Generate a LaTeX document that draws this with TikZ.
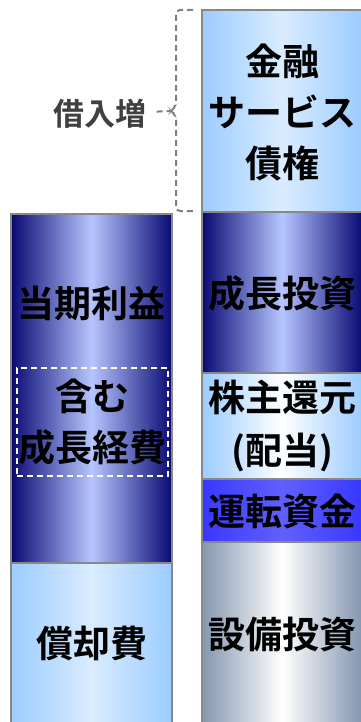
\documentclass[tikz,border=0pt]{standalone}
\usepackage{fontspec}
\newfontfamily\jp{Noto Sans CJK JP}[BoldFont={Noto Sans CJK JP Bold}]
\usepackage{tikz}
\usetikzlibrary{calc,positioning}
\usepackage{xcolor}
\definecolor{dk}{RGB}{10,10,115}
\definecolor{dklt}{RGB}{182,198,255}
\definecolor{sk}{RGB}{156,204,255}
\definecolor{sklt}{RGB}{218,236,255}
\definecolor{vv}{RGB}{56,56,255}
\definecolor{vvlt}{RGB}{96,96,255}
\definecolor{st}{RGB}{132,150,176}
\definecolor{frame}{RGB}{136,136,136}

\begin{document}
\begin{tikzpicture}[x=1pt, y=-1pt,
 seg/.style={draw=frame, line width=1.5pt},
 navy/.style={seg, left color=dk, right color=dk, middle color=dklt},
 sky/.style={seg, left color=sk, right color=sk, middle color=sklt},
 pale/.style={seg, left color=sk, right color=sk, middle color=white},
 vivid/.style={seg, left color=vv, right color=vv, middle color=vvlt},
 steel/.style={seg, left color=st, right color=st, middle color=white},
 txt/.style={font=\jp\bfseries\fontsize{37}{51}\selectfont, text=black, align=center, inner sep=0pt},
 brc/.style={draw=black!50, line width=2pt, dash pattern=on 6pt off 4pt}]
\useasboundingbox (0,0) rectangle (360,722);
% left column
\path[navy] (11,214) rectangle (172,563);
\path[sky] (11,563) rectangle (172,726);
% right column
\path[sky] (202,10) rectangle (362,212);
\path[navy] (202,212) rectangle (362,373);
\path[pale] (202,373) rectangle (362,479);
\path[vivid] (202,479) rectangle (362,542);
\path[steel] (202,542) rectangle (362,726);
% labels
\node[txt] (profit) at (91.5,303) {当期利益};
\node[txt, draw=white, line width=1.3pt, dash pattern=on 6pt off 4pt, minimum width=151pt, minimum height=108pt] (incl) at (92.5,422) {含む\\成長経費};
\node[txt] (amort) at (91.5,643) {償却費};
\node[txt] (fin) at (282,113) {金融\\サービス\\債権};
\node[txt] (grow) at (282,293) {成長投資};
\node[txt] (ret) at (282,426) {株主還元\\[2pt](配当)};
\node[txt] (work) at (282,511) {運転資金};
\node[txt] (capex) at (282,634) {設備投資};
% borrowing bracket
\node[font=\jp\bfseries\fontsize{31}{36}\selectfont, text=black!75, inner sep=10pt] (borrow) at (100,114) {借入増};
\coordinate (tip) at (171,111);
\draw[brc, rounded corners=4pt] (193,10) -- (176,10) -- (176,106) -- (tip) -- (176,116) -- (176,211) -- (193,211);
\draw[brc] (borrow) -- (tip);
\end{tikzpicture}
\end{document}
